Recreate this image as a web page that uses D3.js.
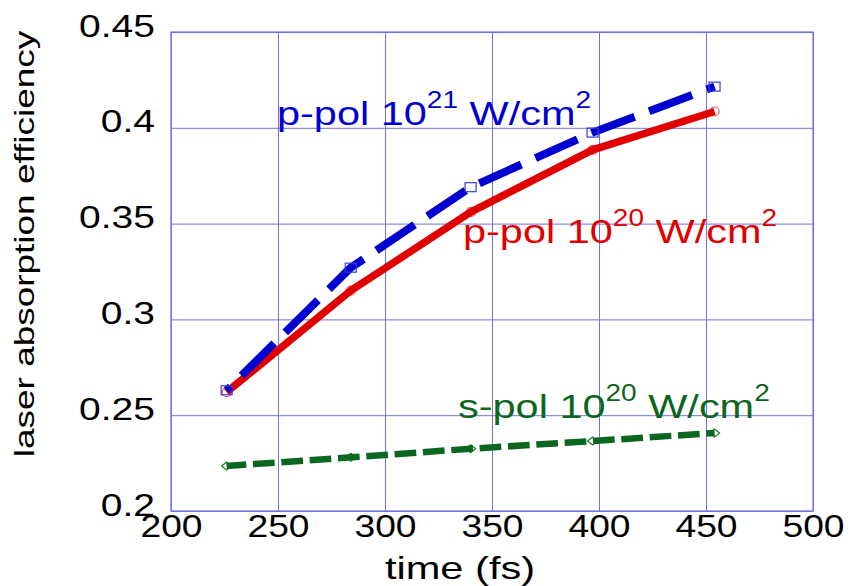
<!DOCTYPE html>
<html>
<head>
<meta charset="utf-8">
<script src="https://cdn.jsdelivr.net/npm/d3@7"></script>
<style>
  html, body { margin: 0; padding: 0; background: #fff; }
  svg { display: block; font-family: "Liberation Sans", Arial, Helvetica, sans-serif; }
</style>
</head>
<body>
<svg id="chart" width="856" height="586"></svg>
<script>
// ---- data ----
const times   = [226, 284, 340, 397, 454];
const pPol21  = [0.263, 0.327, 0.369, 0.3975, 0.4215];
const pPol20  = [0.262, 0.315, 0.356, 0.3885, 0.4085];
const sPol20  = [0.2235, 0.228, 0.2325, 0.2365, 0.2407];
const xTicks  = [200, 250, 300, 350, 400, 450, 500];
const yTicks  = [0.2, 0.25, 0.3, 0.35, 0.4, 0.45];
const xTitle  = "time (fs)";
const yTitle  = "laser absorption efficiency";

const svg = d3.select("#chart");
const x = d3.scaleLinear().domain([200, 500]).range([171, 813]);
const y = d3.scaleLinear().domain([0.2, 0.45]).range([511, 32]);
const gridColor = "#7070e4";

// grid via axes
svg.append("g")
  .attr("transform", `translate(0,${y(0.2)})`)
  .call(d3.axisBottom(x).tickValues(xTicks).tickSize(-(y(0.2) - y(0.45))).tickFormat(d => d))
  .call(g => g.select(".domain").remove())
  .call(g => g.selectAll(".tick line").attr("stroke", gridColor).attr("stroke-width", 1))
  .call(g => g.selectAll(".tick text")
      .attr("fill", "#000").attr("font-size", 31).attr("y", 0).attr("dy", 0)
      .attr("font-family", "'Liberation Sans', Arial, sans-serif")
      .attr("text-anchor", "middle")
      .attr("transform", "translate(0,26) scale(1.2,1)"));

svg.append("g")
  .attr("transform", `translate(${x(200)},0)`)
  .call(d3.axisLeft(y).tickValues(yTicks).tickSize(-(x(500) - x(200))).tickFormat(d => String(+d.toFixed(2))))
  .call(g => g.select(".domain").remove())
  .call(g => g.selectAll(".tick line").attr("stroke", gridColor).attr("stroke-width", 1))
  .call(g => g.selectAll(".tick text")
      .attr("fill", "#000").attr("font-size", 32).attr("x", 0).attr("dy", 0)
      .attr("font-family", "'Liberation Sans', Arial, sans-serif")
      .attr("text-anchor", "end")
      .attr("transform", "translate(-16,4) scale(1.22,1)"));

// frame
svg.append("rect")
  .attr("x", x(200)).attr("y", y(0.45))
  .attr("width", x(500) - x(200)).attr("height", y(0.2) - y(0.45))
  .attr("fill", "none").attr("stroke", gridColor).attr("stroke-width", 1.2);

const line = d3.line().x(d => x(d[0])).y(d => y(d[1]));
const zip = vals => times.map((t, i) => [t, vals[i]]);

// markers drawn beneath lines (red, green)
svg.append("g").selectAll("circle").data(zip(pPol20)).join("circle")
  .attr("cx", d => x(d[0])).attr("cy", d => y(d[1])).attr("r", 4.5)
  .attr("fill", "none").attr("stroke", "#f05050").attr("stroke-width", 1.2);

svg.append("g").selectAll("path").data(zip(sPol20)).join("path")
  .attr("d", d => { const cx = x(d[0]), cy = y(d[1]); return `M${cx - 5},${cy}L${cx},${cy - 4}L${cx + 5},${cy}L${cx},${cy + 4}Z`; })
  .attr("fill", "none").attr("stroke", "#1a7a2a").attr("stroke-width", 1.2);

// lines
svg.append("path").datum(zip(sPol20))
  .attr("d", line).attr("fill", "none")
  .attr("stroke", "#0b6620").attr("stroke-width", 6.5)
  .attr("stroke-dasharray", "21.7,6.7").attr("stroke-dashoffset", 2);

svg.append("path").datum(zip(pPol20))
  .attr("d", line).attr("fill", "none")
  .attr("stroke", "#e00000").attr("stroke-width", 7.5)
  .attr("stroke-linejoin", "round");

svg.append("path").datum(zip(pPol21))
  .attr("d", line).attr("fill", "none")
  .attr("stroke", "#0000d0").attr("stroke-width", 8)
  .attr("stroke-dasharray", "46,15.5").attr("stroke-dashoffset", 40.6);

// blue squares on top
svg.append("g").selectAll("rect").data(zip(pPol21)).join("rect")
  .attr("x", d => x(d[0]) - 5.5).attr("y", d => y(d[1]) - 4.5)
  .attr("width", 11).attr("height", 9)
  .attr("fill", "none").attr("stroke", "#3a3ae0").attr("stroke-width", 1.2);

// annotations
function annot(label, exp, xPos, yPos, color) {
  const t = svg.append("text")
    .attr("transform", `translate(${xPos},${yPos}) scale(1.22,1)`)
    .attr("fill", color).attr("font-size", 34);
  t.append("tspan").text(label + " 10");
  t.append("tspan").attr("font-size", 23).attr("dy", -17).text(exp);
  t.append("tspan").attr("dy", 17).text(" W/cm");
  t.append("tspan").attr("font-size", 23).attr("dy", -17).text("2");
}
annot("p-pol", "21", 277, 125, "#0000d0");
annot("p-pol", "20", 463, 243, "#e00000");
annot("s-pol", "20", 458, 418, "#0b6620");

// axis titles
svg.append("text")
  .attr("transform", "translate(460,579) scale(1.3,1)")
  .attr("text-anchor", "middle").attr("font-size", 32).attr("fill", "#000")
  .text(xTitle);

svg.append("text")
  .attr("transform", "translate(34,244) rotate(-90) scale(1.32,1)")
  .attr("text-anchor", "middle").attr("font-size", 28).attr("fill", "#000")
  .text(yTitle);
</script>
</body>
</html>
